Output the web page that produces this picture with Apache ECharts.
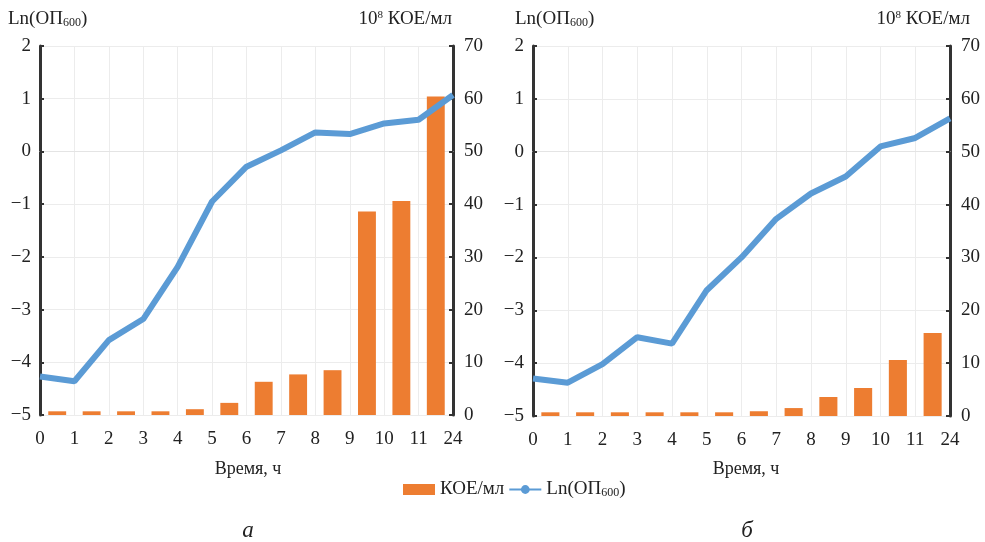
<!DOCTYPE html>
<html>
<head>
<meta charset="utf-8">
<script src="https://cdn.jsdelivr.net/npm/echarts@6/dist/echarts.min.js"></script>
<style>
  html, body { margin: 0; padding: 0; background: #fff; }
  #chart { width: 985px; height: 542px; }
</style>
</head>
<body>
<div id="chart"></div>
<script>
// time points (line) and the 12 intervals between them (bars)
var hours = ['0', '1', '2', '3', '4', '5', '6', '7', '8', '9', '10', '11', '24'];
var bands = ['0-1', '1-2', '2-3', '3-4', '4-5', '5-6', '6-7', '7-8', '8-9', '9-10', '10-11', '11-24'];

// panel а
var lnA = [-4.27, -4.36, -3.58, -3.18, -2.19, -0.95, -0.29, 0.02, 0.36, 0.33, 0.53, 0.60, 1.07];
var koeA = [0.7, 0.7, 0.7, 0.7, 1.1, 2.3, 6.3, 7.7, 8.5, 38.6, 40.6, 60.4];

// panel б
var lnB = [-4.29, -4.37, -4.02, -3.51, -3.63, -2.62, -2.0, -1.27, -0.79, -0.47, 0.10, 0.26, 0.63];
var koeB = [0.7, 0.7, 0.7, 0.7, 0.7, 0.7, 0.9, 1.5, 3.6, 5.3, 10.6, 15.7];

var serif = '"Liberation Serif", "DejaVu Serif", serif';
var orange = '#ED7D31';
var blue = '#5B9BD5';

var chart = echarts.init(document.getElementById('chart'));

function minus(v) {
  return v < 0 ? '\u2212' + Math.abs(v) : '' + v;
}

var subRich = {
  s: { fontFamily: serif, fontSize: 12, color: '#222', verticalAlign: 'bottom', padding: [5, 0, 0, 0] },
  sup: { fontFamily: serif, fontSize: 11, color: '#222', verticalAlign: 'top', padding: [0, 0, 8, 0] }
};

var titleStyle = { fontFamily: serif, fontSize: 19, fontWeight: 'normal', color: '#222', rich: subRich };

function panelAxes(gi) {
  return {
    x: [
      {
        type: 'category', gridIndex: gi, data: hours, boundaryGap: false,
        axisLine: { show: true, lineStyle: { color: '#e4e4e4', width: 1 } },
        axisTick: { show: false },
        axisLabel: { interval: 0, fontFamily: serif, fontSize: 19, color: '#222', margin: 15 },
        splitLine: { show: true, interval: 0, lineStyle: { color: '#ececec', width: 1 } }
      },
      {
        type: 'category', gridIndex: gi, data: bands, boundaryGap: true, show: false
      }
    ],
    y: [
      {
        type: 'value', gridIndex: gi, min: -5, max: 2, interval: 1, position: 'left',
        axisLine: { show: true, lineStyle: { color: '#333', width: 3 } },
        axisTick: { show: true, length: 4, inside: true, lineStyle: { color: '#333', width: 2 } },
        axisLabel: { fontFamily: serif, fontSize: 19, color: '#222', margin: 9, formatter: minus },
        splitLine: { show: true, lineStyle: { color: '#ececec', width: 1 } }
      },
      {
        type: 'value', gridIndex: gi, min: 0, max: 70, interval: 10, position: 'right',
        axisLine: { show: true, lineStyle: { color: '#333', width: 3 } },
        axisTick: { show: true, length: 4, inside: true, lineStyle: { color: '#333', width: 2 } },
        axisLabel: { fontFamily: serif, fontSize: 19, color: '#222', margin: 11 },
        splitLine: { show: false }
      }
    ]
  };
}

var pa = panelAxes(0);
var pb = panelAxes(1);

var option = {
  backgroundColor: '#fff',
  animation: false,
  title: [
    { text: 'Ln(ОП{s|600})', left: 3, top: 5, textStyle: titleStyle },
    { text: '10{sup|8} КОЕ/мл', right: 528, top: 5, textStyle: titleStyle },
    { text: 'Ln(ОП{s|600})', left: 510, top: 5, textStyle: titleStyle },
    { text: '10{sup|8} КОЕ/мл', right: 10, top: 5, textStyle: titleStyle },
    { text: 'Время, ч', left: 243, top: 455, textAlign: 'center', textStyle: { fontFamily: serif, fontSize: 18, fontWeight: 'normal', color: '#222' } },
    { text: 'Время, ч', left: 741, top: 455, textAlign: 'center', textStyle: { fontFamily: serif, fontSize: 18, fontWeight: 'normal', color: '#222' } },
    { text: 'а', left: 243, top: 514, textAlign: 'center', textStyle: { fontFamily: serif, fontSize: 23, fontStyle: 'italic', fontWeight: 'normal', color: '#222' } },
    { text: 'б', left: 742, top: 514, textAlign: 'center', textStyle: { fontFamily: serif, fontSize: 23, fontStyle: 'italic', fontWeight: 'normal', color: '#222' } }
  ],
  legend: {
    left: 398, top: 475, itemGap: 4,
    data: [
      { name: 'КОЕ/мл', icon: 'rect', itemStyle: { color: orange } },
      { name: 'Ln(ОП600)' }
    ],
    itemWidth: 32, itemHeight: 11,
    textStyle: { fontFamily: serif, fontSize: 19, color: '#222', rich: subRich },
    formatter: function (name) {
      return name === 'Ln(ОП600)' ? 'Ln(ОП{s|600})' : name;
    }
  },
  grid: [
    { left: 40, right: 532, top: 46, bottom: 127 },
    { left: 533, right: 35, top: 46, bottom: 126 }
  ],
  xAxis: pa.x.concat(pb.x),
  yAxis: pa.y.concat(pb.y),
  series: [
    {
      name: 'КОЕ/мл', type: 'bar', xAxisIndex: 1, yAxisIndex: 1, data: koeA,
      barWidth: '52%', itemStyle: { color: orange }
    },
    {
      name: 'Ln(ОП600)', type: 'line', xAxisIndex: 0, yAxisIndex: 0, data: lnA,
      symbol: 'circle', symbolSize: 6, showSymbol: false,
      lineStyle: { color: blue, width: 6 }, itemStyle: { color: blue }
    },
    {
      name: 'КОЕ/мл', type: 'bar', xAxisIndex: 3, yAxisIndex: 3, data: koeB,
      barWidth: '52%', itemStyle: { color: orange }
    },
    {
      name: 'Ln(ОП600)', type: 'line', xAxisIndex: 2, yAxisIndex: 2, data: lnB,
      symbol: 'circle', symbolSize: 6, showSymbol: false,
      lineStyle: { color: blue, width: 6 }, itemStyle: { color: blue }
    }
  ]
};

chart.setOption(option);
</script>
</body>
</html>
